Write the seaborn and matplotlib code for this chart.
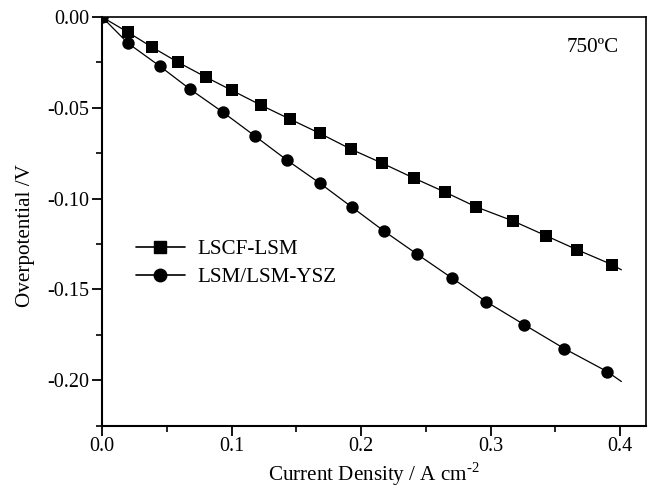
import matplotlib
matplotlib.use("Agg")
import matplotlib.pyplot as plt
from matplotlib.lines import Line2D
from matplotlib.ticker import MultipleLocator, FormatStrFormatter
import seaborn as sns
import pandas as pd

# Measured overpotential vs current density at 750 °C
lscf_j = [0.0, 0.020, 0.0386, 0.0586, 0.0802, 0.100, 0.1226, 0.145, 0.168,
          0.192, 0.216, 0.2405, 0.2645, 0.289, 0.317, 0.343, 0.367, 0.394]
lscf_eta = [0.0, -0.0084, -0.0166, -0.0249, -0.0331, -0.0403, -0.0485, -0.0562,
            -0.0640, -0.0727, -0.0804, -0.0886, -0.0963, -0.1046, -0.1122,
            -0.1205, -0.1282, -0.1364]

ysz_j = [0.0, 0.020, 0.0447, 0.0679, 0.0933, 0.118, 0.1426, 0.168, 0.1928,
         0.2174, 0.2429, 0.2699, 0.2968, 0.326, 0.357, 0.390]
ysz_eta = [0.0, -0.0144, -0.0271, -0.0397, -0.0524, -0.0655, -0.0787, -0.0914,
           -0.1046, -0.1177, -0.1304, -0.1436, -0.1568, -0.1694, -0.1826, -0.1952]

# the fitted curves run on to the last current step
curve_end_j = 0.401
lscf_end_eta = -0.1392
ysz_end_eta = -0.2007

labels = ["LSCF-LSM", "LSM/LSM-YSZ"]

sns.set_style("ticks")
plt.rcParams["font.family"] = ["Liberation Serif", "DejaVu Serif"]
plt.rcParams["mathtext.fontset"] = "custom"
plt.rcParams["mathtext.rm"] = "Liberation Serif"
plt.rcParams["text.color"] = "black"
plt.rcParams["axes.labelcolor"] = "black"

FS_TICK = 14.5
FS_TEXT = 15.2

fig = plt.figure(figsize=(6.53, 4.88), dpi=100)
ax = fig.add_axes([0.1562, 0.1277, 0.8331, 0.8375])

lscf = pd.DataFrame({"j": lscf_j, "eta": lscf_eta})
ysz = pd.DataFrame({"j": ysz_j, "eta": ysz_eta})
lscf_curve = pd.DataFrame({"j": lscf_j + [curve_end_j], "eta": lscf_eta + [lscf_end_eta]})
ysz_curve = pd.DataFrame({"j": ysz_j + [curve_end_j], "eta": ysz_eta + [ysz_end_eta]})

for curve in (lscf_curve, ysz_curve):
    sns.lineplot(data=curve, x="j", y="eta", ax=ax, color="black", lw=0.9,
                 sort=False, estimator=None, legend=False)

sns.scatterplot(data=lscf, x="j", y="eta", ax=ax, marker="s", s=64,
                color="black", edgecolor="black", linewidth=0, legend=False, zorder=3)
sns.scatterplot(data=ysz, x="j", y="eta", ax=ax, marker="o", s=80,
                color="black", edgecolor="black", linewidth=0, legend=False, zorder=3)

ax.set_xlim(0, 0.42)
ax.set_ylim(-0.225, 0.0)
ax.xaxis.set_major_locator(MultipleLocator(0.1))
ax.xaxis.set_minor_locator(MultipleLocator(0.05))
ax.yaxis.set_major_locator(MultipleLocator(0.05))
ax.yaxis.set_minor_locator(MultipleLocator(0.025))
ax.xaxis.set_major_formatter(FormatStrFormatter("%.1f"))
ax.yaxis.set_major_formatter(FormatStrFormatter("%.2f"))

ax.tick_params(axis="both", which="major", direction="out", length=7, width=1.3,
               labelsize=FS_TICK, color="black", labelcolor="black", top=False, right=False)
ax.tick_params(axis="both", which="minor", direction="out", length=4.5, width=1.2,
               color="black", top=False, right=False)
ax.tick_params(axis="x", which="major", pad=1.5)
ax.tick_params(axis="y", which="major", pad=2)

for side in ["left", "bottom", "top", "right"]:
    ax.spines[side].set_visible(True)
    ax.spines[side].set_color("black")
ax.spines["left"].set_linewidth(1.5)
ax.spines["bottom"].set_linewidth(1.5)
ax.spines["top"].set_linewidth(1.2)
ax.spines["right"].set_linewidth(1.2)

ax.set_xlabel(r"Current Density / A cm$^{\text{-2}}$", fontsize=FS_TEXT, labelpad=3)
ax.set_ylabel("Overpotential /V", fontsize=FS_TEXT, labelpad=9)
ax.yaxis.label.set_y(0.464)

ax.text(0.95, 0.926, "750\u00baC", transform=ax.transAxes, ha="right", va="center",
        fontsize=FS_TEXT)

handles = [
    Line2D([], [], color="black", lw=1.2, marker="s", markersize=8),
    Line2D([], [], color="black", lw=1.2, marker="o", markersize=9),
]
ax.legend(handles, labels, loc="center left", bbox_to_anchor=(0.047, 0.397),
          frameon=False, fontsize=FS_TEXT, handlelength=2.3, handletextpad=0.6,
          labelspacing=0.4, borderaxespad=0)

fig.savefig("out.png", dpi=100)
